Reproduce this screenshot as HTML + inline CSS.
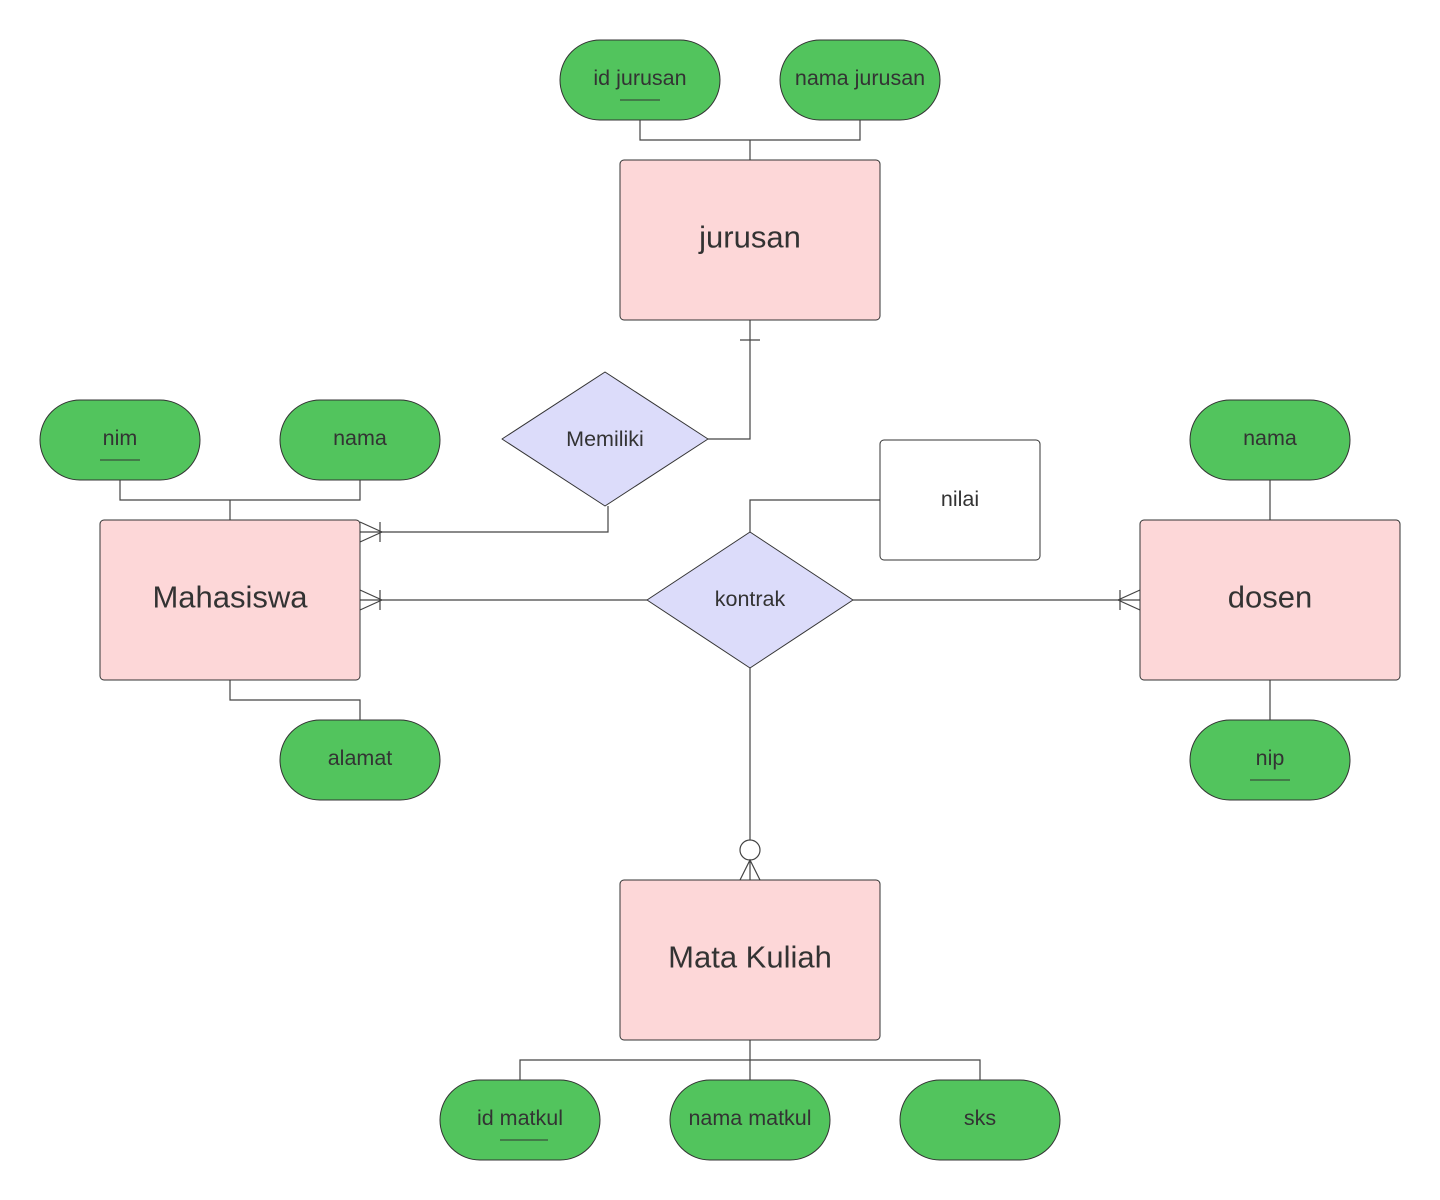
<!DOCTYPE html>
<html><head><style>body{margin:0;background:#fff}svg{display:block}text{font-family:"Liberation Sans",sans-serif;fill:#333;text-anchor:middle;dominant-baseline:central}</style></head><body>
<svg width="1440" height="1200" viewBox="0 0 1440 1200" xmlns="http://www.w3.org/2000/svg">
<g fill="none" stroke="#444" stroke-width="1.2">
<path d="M640 120V140H750V160M860 120V140H750"/>
<path d="M120 480V500H230V520M360 480V500H230"/>
<path d="M230 680V700H360V720"/>
<path d="M1270 480V520M1270 680V720"/>
<path d="M750 1040V1060H520V1080M750 1060H980V1080M750 1060V1080"/>
<path d="M750 320V439H708"/>
<path d="M740 340H760"/>
<path d="M608 506V532H360"/>
<path d="M360 522L382 532L360 542M380 522V542"/>
<path d="M360 600H647M360 590L382 600L360 610M380 590V610"/>
<path d="M853 600H1140M1140 590L1118 600L1140 610M1120 590V610"/>
<path d="M750 532V500H880"/>
<path d="M750 668V840"/>
<circle cx="750" cy="850" r="10"/>
<path d="M740 880L750 860L760 880M750 860V880"/>
</g>
<g stroke="#333" stroke-width="1">
<rect x="560" y="40" width="160" height="80" rx="40" fill="#52c45d"/>
<rect x="780" y="40" width="160" height="80" rx="40" fill="#52c45d"/>
<rect x="40" y="400" width="160" height="80" rx="40" fill="#52c45d"/>
<rect x="280" y="400" width="160" height="80" rx="40" fill="#52c45d"/>
<rect x="280" y="720" width="160" height="80" rx="40" fill="#52c45d"/>
<rect x="1190" y="400" width="160" height="80" rx="40" fill="#52c45d"/>
<rect x="1190" y="720" width="160" height="80" rx="40" fill="#52c45d"/>
<rect x="440" y="1080" width="160" height="80" rx="40" fill="#52c45d"/>
<rect x="670" y="1080" width="160" height="80" rx="40" fill="#52c45d"/>
<rect x="900" y="1080" width="160" height="80" rx="40" fill="#52c45d"/>
<rect x="620" y="160" width="260" height="160" rx="4" fill="#fdd7d8"/>
<rect x="100" y="520" width="260" height="160" rx="4" fill="#fdd7d8"/>
<rect x="1140" y="520" width="260" height="160" rx="4" fill="#fdd7d8"/>
<rect x="620" y="880" width="260" height="160" rx="4" fill="#fdd7d8"/>
<rect x="880" y="440" width="160" height="120" rx="4" fill="#fff"/>
<path d="M605 372L708 439L605 506L502 439Z" fill="#dcdcfa" stroke-linejoin="round"/>
<path d="M750 532L853 600L750 668L647 600Z" fill="#dcdcfa" stroke-linejoin="round"/>
</g>
<g stroke="#333" stroke-width="1">
<path d="M620 100H660M100 460H140M1250 780H1290M500 1140H548"/>
</g>
<g font-size="21.5">
<text x="640" y="78">id jurusan</text>
<text x="860" y="78">nama jurusan</text>
<text x="120" y="438">nim</text>
<text x="360" y="438">nama</text>
<text x="360" y="758">alamat</text>
<text x="1270" y="438">nama</text>
<text x="1270" y="758">nip</text>
<text x="520" y="1118">id matkul</text>
<text x="750" y="1118">nama matkul</text>
<text x="980" y="1118">sks</text>
<text x="605" y="439">Memiliki</text>
<text x="750" y="599">kontrak</text>
<text x="960" y="499">nilai</text>
</g>
<g font-size="31">
<text x="750" y="237">jurusan</text>
<text x="230" y="597">Mahasiswa</text>
<text x="1270" y="597">dosen</text>
<text x="750" y="957">Mata Kuliah</text>
</g>
</svg>
</body></html>
